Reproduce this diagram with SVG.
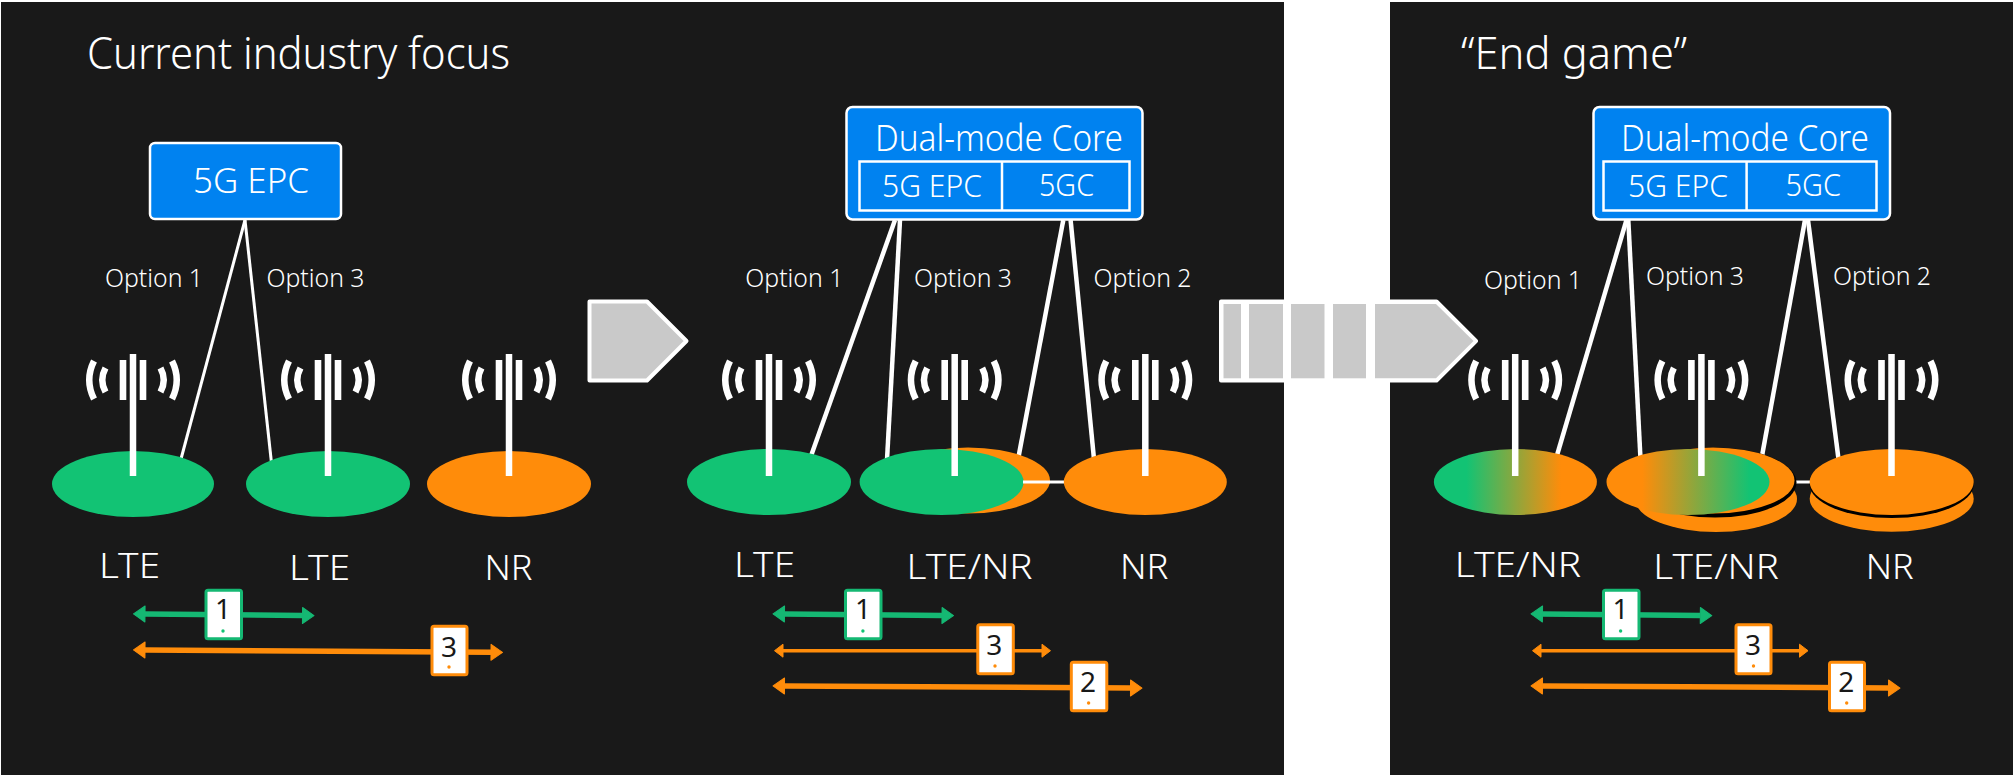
<svg xmlns="http://www.w3.org/2000/svg" xmlns:xlink="http://www.w3.org/1999/xlink" width="2013" height="775" viewBox="0 0 2013 775">
<style>
text{font-family:"Noto Sans","Open Sans","Liberation Sans",sans-serif;font-weight:300;fill:#fff}
.panel{fill:#191919}
.title{font-size:44px}
.band{font-size:35px}
.opt{font-size:26px}
.core{stroke:#fff;stroke-width:2.5;fill:#0082f0}
.inner{stroke:#fff;stroke-width:2.5;fill:none}
.corehead{font-size:37px}
.corecell{font-size:32px}
.link{stroke:#fff;fill:none}
.w3{stroke-width:3}
.w4{stroke-width:4.5}
.g{fill:#12c374}
.o{fill:#ff8c0a}
.phone{fill:#fff;stroke-width:3}
.pg{stroke:#15b873}
.po{stroke:#ff8c0a}
.digit{font-size:28px;fill:#181818;font-weight:400;text-anchor:middle}
.ag{stroke:#15b873;stroke-width:5.5;fill:none;marker-start:url(#hg);marker-end:url(#hg)}
.ao{stroke:#ff8c0a;stroke-width:5.5;fill:none;marker-start:url(#ho);marker-end:url(#ho)}
.at{stroke:#ff8c0a;stroke-width:3.5;fill:none;marker-start:url(#ht);marker-end:url(#ht)}
.gray{fill:#c9c9c9}
</style>
<defs>
<marker id="hg" markerUnits="userSpaceOnUse" orient="auto-start-reverse" refX="0" refY="10" markerWidth="14" markerHeight="20" overflow="visible"><path d="M0,2L11.5,10L0,18Z" fill="#15b873" stroke="#15b873" stroke-width="1" stroke-linejoin="round"/></marker>
<marker id="ho" markerUnits="userSpaceOnUse" orient="auto-start-reverse" refX="0" refY="10" markerWidth="14" markerHeight="20" overflow="visible"><path d="M0,2L11.5,10L0,18Z" fill="#ff8c0a" stroke="#ff8c0a" stroke-width="1" stroke-linejoin="round"/></marker>
<marker id="ht" markerUnits="userSpaceOnUse" orient="auto-start-reverse" refX="0" refY="10" markerWidth="14" markerHeight="20" overflow="visible"><path d="M0,3.5L8.5,10L0,16.5Z" fill="#ff8c0a" stroke="#ff8c0a" stroke-width="1" stroke-linejoin="round"/></marker>
<linearGradient id="gradA" x1="0" x2="1" y1="0" y2="0"><stop offset="0.2" stop-color="#12c374"/><stop offset="0.78" stop-color="#ff8c0a"/></linearGradient>
<linearGradient id="gradB" x1="0" x2="1" y1="0" y2="0"><stop offset="0.22" stop-color="#ff8c0a"/><stop offset="0.88" stop-color="#12c374"/></linearGradient>
<g id="tower">
<rect x="-3.25" y="354" width="6.5" height="122" fill="#fff"/>
<rect x="-13.3" y="360" width="6.6" height="40" fill="#fff"/>
<rect x="6.7" y="360" width="6.6" height="40" fill="#fff"/>
<g fill="none" stroke="#fff" stroke-width="6.5">
<path d="M-39,361Q-48.5,380 -39,399"/>
<path d="M-27.5,368Q-34,380 -27.5,392"/>
<path d="M39,361Q48.5,380 39,399"/>
<path d="M27.5,368Q34,380 27.5,392"/>
</g>
</g>
</defs>
<rect width="2013" height="775" fill="#fff"/>
<g id="panels">
<rect class="panel" x="1" y="2" width="1283" height="773"/>
<rect class="panel" x="1390" y="2" width="623" height="773"/>
</g>
<g id="titles">
<text class="title" x="87" y="69" textLength="423" lengthAdjust="spacingAndGlyphs">Current industry focus</text>
<text class="title" x="1461" y="69" textLength="226" lengthAdjust="spacingAndGlyphs">“End game”</text>
</g>
<g id="transition-arrows">
<g id="arrow-short">
<path d="M589.5,301.5H647L686.5,341L647,380.5H589.5Z" fill="#c9c9c9" stroke="#fff" stroke-width="4" stroke-linejoin="round"/>
</g>
<g id="arrow-dashed">
<path d="M1221,301.5H1436.5L1476,341L1436.5,380.5H1221Z" fill="#fff" stroke="#fff" stroke-width="4" stroke-linejoin="round"/>
<rect class="gray" x="1223.5" y="304" width="17.5" height="74.3"/>
<rect class="gray" x="1249" y="304" width="34" height="74.3"/>
<rect class="gray" x="1291" y="304" width="33.5" height="74.3"/>
<rect class="gray" x="1333" y="304" width="33" height="74.3"/>
<path class="gray" d="M1375,304H1436L1473.5,341L1436,378.3H1375Z"/>
</g>
</g>
<g id="connectors">
<line class="link w3" x1="245" y1="220" x2="181" y2="459"/>
<line class="link w3" x1="245" y1="220" x2="271.5" y2="463"/>
<line class="link w4" x1="895" y1="220" x2="811" y2="456"/>
<line class="link w4" x1="900" y1="220" x2="887" y2="460"/>
<line class="link w4" x1="1063.3" y1="220" x2="1018.5" y2="457"/>
<line class="link w4" x1="1070.6" y1="220" x2="1094" y2="459"/>
<line class="link w3" x1="1023" y1="482" x2="1066" y2="482"/>
<line class="link w4" x1="1626.5" y1="220" x2="1556.5" y2="457"/>
<line class="link w4" x1="1628.3" y1="220" x2="1640.5" y2="459"/>
<line class="link w4" x1="1805" y1="220" x2="1762" y2="456"/>
<line class="link w4" x1="1808" y1="220" x2="1838.5" y2="459"/>
<line class="link w3" x1="1795" y1="482" x2="1812" y2="482"/>
</g>
<g id="core-a">
<rect class="core" x="150" y="143" width="191" height="76" rx="5"/>
<text class="band" x="193" y="193" textLength="116" lengthAdjust="spacingAndGlyphs">5G EPC</text>
</g>
<g id="core-b">
<rect class="core" x="846.5" y="107" width="296" height="112.5" rx="6"/>
<text class="corehead" x="875" y="151" textLength="248" lengthAdjust="spacingAndGlyphs">Dual-mode Core</text>
<rect class="inner" x="859.5" y="161.5" width="270" height="49"/>
<line class="inner" x1="1002" y1="161.5" x2="1002" y2="210.5"/>
<text class="corecell" x="882" y="197" textLength="100" lengthAdjust="spacingAndGlyphs">5G EPC</text>
<text class="corecell" x="1039" y="196" textLength="55" lengthAdjust="spacingAndGlyphs">5GC</text>
</g>
<g id="core-c">
<rect class="core" x="1593.5" y="107" width="296.5" height="112.5" rx="6"/>
<text class="corehead" x="1621" y="151" textLength="248" lengthAdjust="spacingAndGlyphs">Dual-mode Core</text>
<rect class="inner" x="1603.5" y="161.5" width="273" height="49"/>
<line class="inner" x1="1746.6" y1="161.5" x2="1746.6" y2="210.5"/>
<text class="corecell" x="1628" y="197" textLength="100" lengthAdjust="spacingAndGlyphs">5G EPC</text>
<text class="corecell" x="1785.5" y="196" textLength="55.5" lengthAdjust="spacingAndGlyphs">5GC</text>
</g>
<g id="option-labels">
<text class="opt" x="105" y="287" textLength="98" lengthAdjust="spacingAndGlyphs">Option 1</text>
<text class="opt" x="266.5" y="287" textLength="98" lengthAdjust="spacingAndGlyphs">Option 3</text>
<text class="opt" x="745.3" y="287" textLength="98" lengthAdjust="spacingAndGlyphs">Option 1</text>
<text class="opt" x="914" y="287" textLength="98" lengthAdjust="spacingAndGlyphs">Option 3</text>
<text class="opt" x="1093.5" y="287" textLength="98" lengthAdjust="spacingAndGlyphs">Option 2</text>
<text class="opt" x="1484" y="289" textLength="98" lengthAdjust="spacingAndGlyphs">Option 1</text>
<text class="opt" x="1646" y="285" textLength="98" lengthAdjust="spacingAndGlyphs">Option 3</text>
<text class="opt" x="1833" y="285" textLength="98" lengthAdjust="spacingAndGlyphs">Option 2</text>
</g>
<g id="cell-a1"><ellipse class="g" cx="133" cy="484" rx="81" ry="33"/><use href="#tower" x="133"/><text class="band" x="99" y="578" textLength="61" lengthAdjust="spacingAndGlyphs">LTE</text></g>
<g id="cell-a2"><ellipse class="g" cx="328" cy="484" rx="82" ry="33"/><use href="#tower" x="328"/><text class="band" x="289" y="580" textLength="61" lengthAdjust="spacingAndGlyphs">LTE</text></g>
<g id="cell-a3"><ellipse class="o" cx="509" cy="484" rx="82" ry="33"/><use href="#tower" x="509"/><text class="band" x="484.5" y="580" textLength="48" lengthAdjust="spacingAndGlyphs">NR</text></g>
<g id="cell-b1"><ellipse class="g" cx="769" cy="482" rx="82" ry="33"/><use href="#tower" x="769"/><text class="band" x="734" y="577" textLength="61" lengthAdjust="spacingAndGlyphs">LTE</text></g>
<g id="cell-b2"><ellipse class="o" cx="968" cy="480.5" rx="82" ry="33"/><ellipse class="g" cx="941.6" cy="482" rx="82" ry="33"/><line class="link w3" x1="1023" y1="482" x2="1050" y2="482"/><use href="#tower" x="954.7"/><text class="band" x="906.6" y="579" textLength="126" lengthAdjust="spacingAndGlyphs">LTE/NR</text></g>
<g id="cell-b3"><ellipse class="o" cx="1145.3" cy="482" rx="81.5" ry="33"/><use href="#tower" x="1145.3"/><text class="band" x="1120" y="579" textLength="48.5" lengthAdjust="spacingAndGlyphs">NR</text></g>
<g id="cell-c1"><ellipse cx="1515.4" cy="482" rx="81.5" ry="33" fill="url(#gradA)"/><use href="#tower" x="1515.2"/><text class="band" x="1454.7" y="577" textLength="126.5" lengthAdjust="spacingAndGlyphs">LTE/NR</text></g>
<g id="cell-c2"><ellipse class="o" cx="1716" cy="499" rx="81" ry="33"/><ellipse cx="1715" cy="482.6" rx="81.5" ry="35" fill="#000"/><ellipse class="o" cx="1713" cy="480.5" rx="81.5" ry="33"/><ellipse cx="1688" cy="482" rx="81.5" ry="33" fill="url(#gradB)"/><use href="#tower" x="1701.4"/><text class="band" x="1653.3" y="579" textLength="125.5" lengthAdjust="spacingAndGlyphs">LTE/NR</text></g>
<g id="cell-c3"><ellipse class="o" cx="1891.7" cy="498.7" rx="82" ry="33"/><ellipse cx="1891.7" cy="484.5" rx="82" ry="33.5" fill="#000"/><ellipse class="o" cx="1891.7" cy="482" rx="82" ry="33"/><use href="#tower" x="1891.5"/><text class="band" x="1865.7" y="579" textLength="48" lengthAdjust="spacingAndGlyphs">NR</text></g>
<g id="sessions">
<line class="ag" x1="145" y1="614" x2="302.5" y2="615.5"/>
<line class="ao" x1="145" y1="650" x2="491" y2="652.3"/>
<line class="ag" x1="784.5" y1="614" x2="942" y2="615.5"/>
<line class="at" x1="783" y1="650.7" x2="1042" y2="650.7"/>
<line class="ao" x1="784.5" y1="686" x2="1130.5" y2="688"/>
<line class="ag" x1="1542.5" y1="614" x2="1700.3" y2="615.5"/>
<line class="at" x1="1541" y1="650.7" x2="1799.5" y2="650.7"/>
<line class="ao" x1="1542.5" y1="686" x2="1888.5" y2="688"/>
</g>
<g id="ue-a1"><rect class="phone pg" x="206" y="590.2" width="35.5" height="48.5" rx="2"/><text class="digit" x="223" y="619">1</text><circle class="g" cx="223" cy="631" r="1.7"/></g>
<g id="ue-a3"><rect class="phone po" x="432" y="626.2" width="35" height="48.5" rx="2"/><text class="digit" x="449" y="656.7">3</text><circle class="o" cx="449" cy="667" r="1.7"/></g>
<g id="ue-b1"><rect class="phone pg" x="845.5" y="590.2" width="35.5" height="48.5" rx="2"/><text class="digit" x="862.9" y="619">1</text><circle class="g" cx="862.9" cy="631" r="1.7"/></g>
<g id="ue-b3"><rect class="phone po" x="977.8" y="624.8" width="35.5" height="49" rx="2"/><text class="digit" x="994.3" y="655">3</text><circle class="o" cx="995" cy="666" r="1.7"/></g>
<g id="ue-b2"><rect class="phone po" x="1071.3" y="662.2" width="35.5" height="48.6" rx="2"/><text class="digit" x="1088" y="692">2</text><circle class="o" cx="1088.6" cy="703" r="1.7"/></g>
<g id="ue-c1"><rect class="phone pg" x="1603.5" y="590.2" width="35.5" height="48.5" rx="2"/><text class="digit" x="1620.6" y="619">1</text><circle class="g" cx="1620.6" cy="631" r="1.7"/></g>
<g id="ue-c3"><rect class="phone po" x="1736" y="624.8" width="35" height="49" rx="2"/><text class="digit" x="1753" y="655">3</text><circle class="o" cx="1753.5" cy="666" r="1.7"/></g>
<g id="ue-c2"><rect class="phone po" x="1829.5" y="662.2" width="35" height="48.6" rx="2"/><text class="digit" x="1846.3" y="692">2</text><circle class="o" cx="1846.7" cy="703" r="1.7"/></g>
</svg>
